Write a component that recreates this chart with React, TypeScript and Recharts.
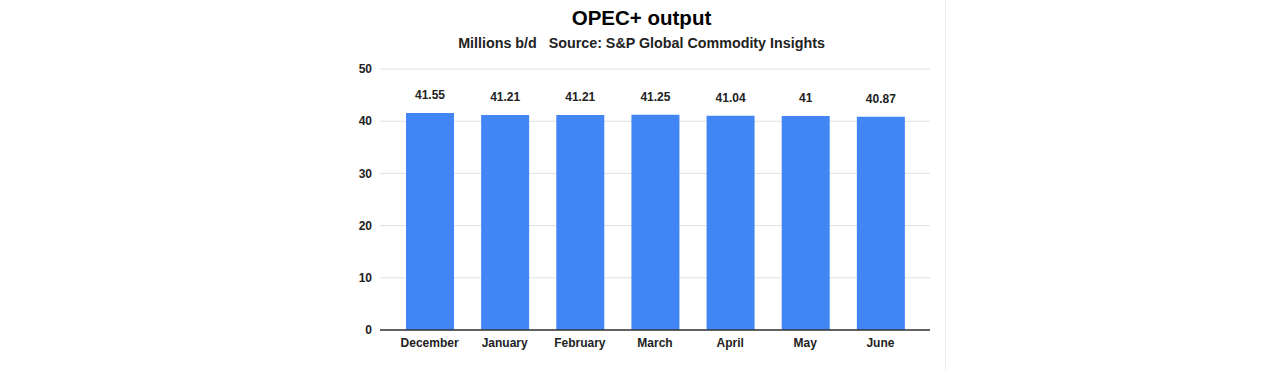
import React from "react";
import { BarChart, Bar, XAxis, YAxis, CartesianGrid, LabelList } from "recharts";

const months = ["December", "January", "February", "March", "April", "May", "June"];
const output = [41.55, 41.21, 41.21, 41.25, 41.04, 41, 40.87];
const yTicks = [0, 10, 20, 30, 40, 50];

const data = months.map((m, i) => ({ month: m, value: output[i] }));

const FONT = "'Liberation Sans', Arial, sans-serif";

export default function App() {
  return (
    <div style={{ position: "absolute", left: 0, top: 0, width: 1285, height: 370, background: "#fff", fontFamily: FONT }}>
      <div style={{ position: "absolute", left: 945, top: 0, width: 1, height: 370, background: "#ececec" }} />
      <div style={{ position: "absolute", left: 338, top: 6, width: 607, textAlign: "center", fontSize: 20.5, fontWeight: "bold", color: "#000" }}>
        OPEC+ output
      </div>
      <div style={{ position: "absolute", left: 338, top: 35, width: 607, textAlign: "center", fontSize: 14.3, fontWeight: "bold", color: "#222", whiteSpace: "pre" }}>
        {"Millions b/d   Source: S&P Global Commodity Insights"}
      </div>
      <div style={{ position: "absolute", left: 338, top: 0 }}>
        <BarChart width={607} height={370} data={data} margin={{ top: 69, right: 15, bottom: 10, left: 0 }}>
          <CartesianGrid vertical={false} stroke="#e0e0e0" />
          <XAxis
            dataKey="month"
            height={30}
            tickLine={false}
            axisLine={{ stroke: "#333", strokeWidth: 1.5 }}
            padding={{ left: 12, right: 12 }}
            tick={{ fontSize: 12, fontWeight: "bold", fill: "#222", fontFamily: FONT }}
            interval={0}
          />
          <YAxis
            width={42}
            domain={[0, 50]}
            ticks={yTicks}
            tickLine={false}
            axisLine={false}
            tick={{ fontSize: 12, fontWeight: "bold", fill: "#222", fontFamily: FONT }}
          />
          <Bar dataKey="value" fill="#4285f4" barSize={48} isAnimationActive={false}>
            <LabelList dataKey="value" position="top" offset={14} style={{ fontSize: 12, fontWeight: "bold", fill: "#222", fontFamily: FONT }} />
          </Bar>
        </BarChart>
      </div>
    </div>
  );
}
